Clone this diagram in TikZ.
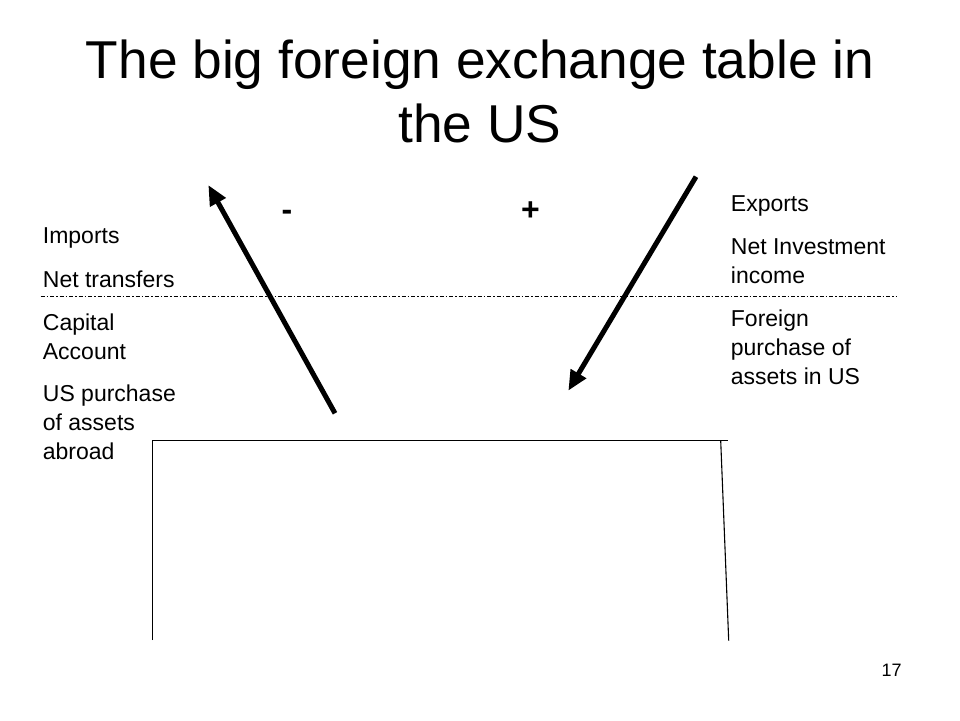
\documentclass[tikz,border=0pt]{standalone}
\usepackage{fontspec}
\setmainfont{Liberation Sans}
\usetikzlibrary{arrows.meta}

\begin{document}
\begin{tikzpicture}[x=1pt,y=-1pt,>={Triangle[length=20pt,width=17pt]},
  lbl/.style={anchor=base west,align=left,inner sep=0pt,font=\fontsize{23}{28.7}\selectfont},
  sgn/.style={anchor=base,inner sep=0pt,font=\fontsize{32}{36}\selectfont\bfseries}]
\useasboundingbox (0,0) rectangle (960,720);

% base of a multi-line node = its last line
\node[align=center,anchor=base,inner sep=0pt,font=\fontsize{53.3}{64}\selectfont] (title) at (480,142) {The big foreign exchange table in\\the US};

% left column
\node[lbl] (imp) at (42.7,243.3) {Imports};
\node[lbl] (tra) at (42.7,287.3) {Net transfers};
\node[lbl] (cap) at (42.7,359.3) {Capital\\Account};
\node[lbl] (uspur) at (42.7,459) {US purchase\\of assets\\abroad};
% right column
\node[lbl] (exp) at (730.7,211.7) {Exports};
\node[lbl] (inc) at (730.7,283.3) {Net Investment\\income};
\node[lbl] (forpur) at (730.7,384) {Foreign\\purchase of\\assets in US};

\node[sgn] (minus) at (287,220.5) {-};
\node[sgn] (plus) at (530.5,220.5) {+};

% current / capital split
\draw [line width=1pt,dash pattern=on 4pt off 2pt on 1.5pt off 2pt] (40.7,296.7) -- (896.7,296.7);

% the table
\draw [line width=1.3pt] (152.7,640) -- (152.7,440.7) -- (728.3,440.7);
\draw [line width=1.1pt] (720.7,440.7) -- (728.7,640.7);

% arrows
\coordinate (ltail) at (335,413.3);
\coordinate (lhead) at (208.3,185);
\coordinate (rtail) at (696,176.7);
\coordinate (rhead) at (568.3,390.7);
\draw [->,line width=5pt] (ltail) -- (lhead);
\draw [->,line width=5pt] (rtail) -- (rhead);

\node[anchor=base,inner sep=0pt,font=\fontsize{18}{20}\selectfont] (pg) at (891.7,676.5) {17};

\end{tikzpicture}
\end{document}
